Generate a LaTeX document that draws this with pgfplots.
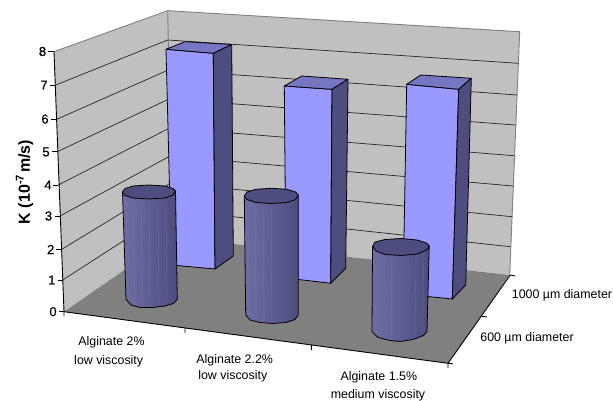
\documentclass[border=0pt]{standalone}
\usepackage{fontspec}
\setmainfont{Liberation Sans}
\newfontfamily\tickfont[FakeBold=0.5]{Liberation Sans}
\usepackage{pgfplots}
\pgfplotsset{compat=1.18}
\definecolor{wallc}{HTML}{C0C0C0}
\definecolor{floorc}{HTML}{808080}
\definecolor{barfront}{HTML}{9999FF}
\definecolor{bartop}{HTML}{7676C2}
\definecolor{barside}{HTML}{4D4D80}
\definecolor{cylleft}{HTML}{6E6EA4}
\definecolor{cylright}{HTML}{4C4C7E}
\definecolor{cyltop}{HTML}{4D4D80}
\definecolor{stripe}{HTML}{9A9AC8}
\newcommand{\lab}{\fontsize{12.4}{15}\selectfont}
\newcommand{\tck}{\fontsize{13}{15}\tickfont}
\begin{document}
\begin{tikzpicture}
\begin{axis}[
    x=1pt, y=1pt, xmin=0, xmax=613, ymin=0, ymax=401,
    y dir=reverse, hide axis, clip=false,
    unbounded coords=jump,
    face/.style={draw=black, line width=0.8pt, line join=round, fill=#1},
    grid line/.style={draw=black!85, line width=0.7pt},
    edge/.style={draw=black, line width=0.9pt},
]
% walls and floor
\addplot[draw=none, fill=wallc] coordinates {(54,51.7) (167.7,10.7) (172,237) (64,311.7)} -- cycle;
\addplot[draw=none, fill=wallc] coordinates {(167.7,10.7) (519.7,31.7) (509.7,275) (172,237)} -- cycle;
\addplot[draw=none, fill=floorc] coordinates {(64,311.7) (172,237) (509.7,275) (448,363.3)} -- cycle;
\addplot[draw=floorc, line width=0.9pt] coordinates {(54,51.7) (167.7,10.7) (519.7,31.7) (509.7,275)};
\addplot[draw=floorc, line width=0.9pt] coordinates {(167.7,10.7) (172,237)};
% gridlines, left wall then back wall
\addplot[grid line] coordinates {(55,85.3) (167.7,40) (518,63.3)};
\addplot[grid line] coordinates {(56.7,119.3) (168.3,70) (517,95)};
\addplot[grid line] coordinates {(57.3,151.7) (169,99) (515.3,125)};
\addplot[grid line] coordinates {(58.3,185) (169.5,128) (514,155.7)};
\addplot[grid line] coordinates {(60,216) (170,156) (513,186)};
\addplot[grid line] coordinates {(61.7,249.3) (170.7,183) (512,216.7)};
\addplot[grid line] coordinates {(62.7,280) (171.3,210) (510.3,246.7)};
% axis edges and ticks
\addplot[edge] coordinates {(54,51.7) (64,311.7) (448,363.3) (510.3,275)};
\addplot[edge] coordinates {(48,51.7) (54,51.7) (nan,nan) (49.5,85.3) (55,85.3) (nan,nan) (51,119.3) (56.7,119.3) (nan,nan) (52,151.7) (57.3,151.7) (nan,nan) (53,185) (58.3,185) (nan,nan) (54.5,216) (60,216) (nan,nan) (56,249.3) (61.7,249.3) (nan,nan) (57.5,280) (62.7,280) (nan,nan) (59,311.7) (64,311.7)};
\addplot[edge] coordinates {(64,311.7) (64,316) (nan,nan) (185,328) (185,333) (nan,nan) (311.3,345) (311.3,350) (nan,nan) (448,363.3) (448,368) (nan,nan) (448,363.3) (453,363.8) (nan,nan) (482,316.5) (487,316.8) (nan,nan) (510.3,275) (515,276)};
% 1000 um bars
\addplot[face=barfront] coordinates {(166,49.3) (213.3,53.3) (215,269) (171.5,265)} -- cycle;
\addplot[face=bartop] coordinates {(166,49.3) (213.3,53.3) (231.7,44.5) (185,41.7)} -- cycle;
\addplot[face=barside] coordinates {(213.3,53.3) (231.7,44.5) (233.3,256) (215,269)} -- cycle;
\addplot[face=barfront] coordinates {(284.3,86) (332,89.3) (330.7,283.3) (286,278)} -- cycle;
\addplot[face=bartop] coordinates {(284.3,86) (332,89.3) (348,79.3) (301.7,76)} -- cycle;
\addplot[face=barside] coordinates {(332,89.3) (348,79.3) (345.7,268.3) (330.7,283.3)} -- cycle;
\addplot[face=barfront] coordinates {(406.7,84.3) (458.7,89.3) (452.3,299) (403,294)} -- cycle;
\addplot[face=bartop] coordinates {(406.7,84.3) (458.7,89.3) (471.3,78.3) (420.7,75)} -- cycle;
\addplot[face=barside] coordinates {(458.7,89.3) (471.3,78.3) (465.7,285) (452.3,299)} -- cycle;
% 600 um cylinders
\addplot[draw=black, line width=0.8pt, line join=round, left color=cylleft, right color=cylright] coordinates {(122.5,192) (175.5,191) (177.3,299.3) (173.5,303.5) (165,306) (152,307.5) (140,307.5) (131,305) (126,299.3)} -- cycle;
\addplot[draw=stripe, line width=0.4pt, opacity=0.35] coordinates {(133,200) (135,305) (nan,nan) (141,200) (143,306) (nan,nan) (149,202) (150,307) (nan,nan) (158,200) (159,306) (nan,nan) (166,200) (167,304)};
\addplot[face=cyltop] coordinates {(122.5,192) (125,188.5) (133,186) (149,185) (165,186) (173,188.5) (175.5,191) (173,195) (165,198) (149,199) (133,198) (125,195.5)} -- cycle;
\addplot[draw=black, line width=0.8pt, line join=round, left color=cylleft, right color=cylright] coordinates {(244.3,196) (298.3,195) (298.3,315) (295,319.5) (286,322.5) (273,323.5) (260,322.5) (250,320) (245.7,315)} -- cycle;
\addplot[draw=stripe, line width=0.4pt, opacity=0.35] coordinates {(255,205) (256,321) (nan,nan) (263,205) (264,322) (nan,nan) (271,205) (272,323) (nan,nan) (280,205) (280,322) (nan,nan) (288,205) (288,321)};
\addplot[face=cyltop] coordinates {(244.3,196) (247,192) (256,189.3) (271,188.3) (287,189.3) (295.5,192) (298.3,195) (295.5,199.5) (287,202.5) (271,203.5) (256,202.5) (247,199.5)} -- cycle;
\addplot[draw=black, line width=0.8pt, line join=round, left color=cylleft, right color=cylright] coordinates {(372.5,246.5) (429.2,246) (427,331.5) (423.5,335.5) (413,339.5) (400,341.5) (390,340.5) (378,337.5) (372,331.7)} -- cycle;
\addplot[draw=stripe, line width=0.4pt, opacity=0.35] coordinates {(392,257) (391,340) (nan,nan) (400,257) (400,341) (nan,nan) (408,257) (408,340) (nan,nan) (416,255) (415,338) (nan,nan) (424,252) (422,335)};
\addplot[face=cyltop] coordinates {(372.5,246.5) (375,242) (385,239.5) (401,238.5) (417,240) (426.5,243) (429.2,246) (426.5,250) (417,254) (401,255.5) (385,254.5) (376,251)} -- cycle;
% tick labels
\node[font=\tck] at (42.5,51.5) {8};
\node[font=\tck] at (44,85) {7};
\node[font=\tck] at (45,119) {6};
\node[font=\tck] at (46,152) {5};
\node[font=\tck] at (48,185) {4};
\node[font=\tck] at (48.5,216) {3};
\node[font=\tck] at (50.7,249.5) {2};
\node[font=\tck] at (51.7,280) {1};
\node[font=\tck] at (53,311.7) {0};
\node[font=\fontsize{16}{18}\selectfont\bfseries, rotate=90] at (24.5,182) {K (10\textsuperscript{-7}\hspace{0.1em}m/s)};
\node[font=\lab] at (111.5,342.7) {Alginate 2\%};
\node[font=\lab] at (108.7,361) {low viscosity};
\node[font=\lab] at (234.7,360) {Alginate 2.2\%};
\node[font=\lab] at (232.8,376.7) {low viscosity};
\node[font=\lab] at (378.8,377.3) {Alginate 1.5\%};
\node[font=\lab] at (378,395) {medium viscosity};
\node[font=\lab] at (562,295) {1000 µm diameter};
\node[font=\lab] at (527,338.3) {600 µm diameter};
\end{axis}
\pgfresetboundingbox
\useasboundingbox (0,0) rectangle (613pt,401pt);
\end{tikzpicture}
\end{document}
